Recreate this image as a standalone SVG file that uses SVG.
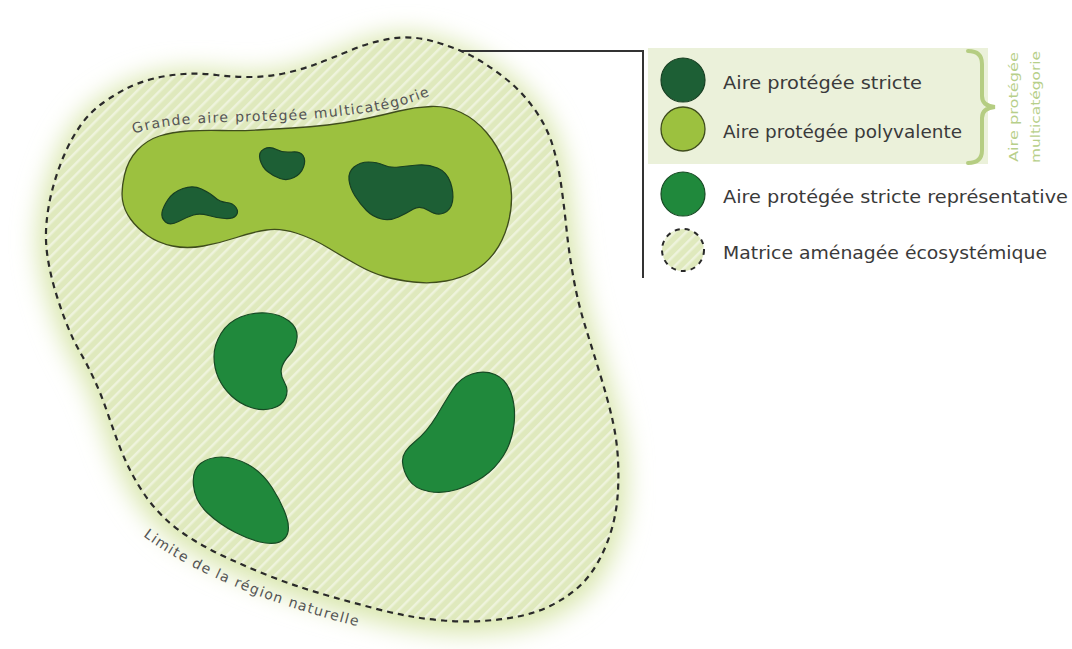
<svg xmlns="http://www.w3.org/2000/svg" width="1072" height="649" viewBox="0 0 1072 649">
<defs>
<style>
.lbl{font-family:"DejaVu Sans","Liberation Sans",sans-serif;fill:#3a3a3a;}
.leg{font-size:17px;}
.curv{font-size:14px;fill:#555;}
.dark{fill:#1d5f35;stroke:#173f22;stroke-width:1.2;}
.rep{fill:#20893c;stroke:#174a24;stroke-width:1.2;}
.poly{fill:#9cc13f;stroke:#3f4d1c;stroke-width:1.3;}
.side{font-family:"DejaVu Sans","Liberation Sans",sans-serif;font-size:13px;fill:#b7cf8a;}
</style>
<pattern id="stripes" patternUnits="userSpaceOnUse" width="8" height="8" patternTransform="rotate(45)">
<rect width="8" height="8" fill="#dfe9bd"/>
<rect x="0" y="0" width="2.5" height="8" fill="#eef3dc"/>
</pattern>
<filter id="glow" x="-20%" y="-20%" width="140%" height="140%">
<feGaussianBlur stdDeviation="12"/>
</filter>
<path id="regionShape" d="M437.5,42.5 Q462,50 478,59.5 Q494,69 508.5,81 Q523,93 535,110 Q547,127 552.5,145 Q558,163 561,184 Q564,205 566.5,229 Q569,253 573.5,278 Q578,303 585,325.5 Q592,348 600,374 Q608,400 612.5,420 Q617,440 618,460 Q619,480 617.5,497.5 Q616,515 611,531.5 Q606,548 597.5,563 Q589,578 577.5,588 Q566,598 551,605.5 Q536,613 518,616.5 Q500,620 481,621 Q462,622 443.5,620.5 Q425,619 408.5,616 Q392,613 375,608.5 Q358,604 341.5,599.5 Q325,595 306,589 Q287,583 267,575 Q247,567 228.5,558.5 Q210,550 193.5,540 Q177,530 165,518.5 Q153,507 144.5,494.5 Q136,482 129.5,469 Q123,456 117.5,441 Q112,426 106.5,410 Q101,394 94,379 Q87,364 80,352 Q73,340 66.5,323.5 Q60,307 55,290 Q50,273 47.5,256.5 Q45,240 46.5,223 Q48,206 52.5,189 Q57,172 64,155.5 Q71,139 80.5,125.5 Q90,112 103.5,102.5 Q117,93 128.5,87.5 Q140,82 154,78.5 Q168,75 184,74 Q200,73 216.5,75 Q233,77 250,77 Q267,77 283.5,73.5 Q300,70 315,64.5 Q330,59 350,50.5 Q370,42 391.5,38.5 Q413,35 437.5,42.5 Z"/>
<path id="topTextPath" d="M134,134 C175,118 260,124 320,118 S400,108 436,93"/>
<path id="bottomTextPath" d="M143,536 Q215,590 360,627"/>
</defs>

<rect width="1072" height="649" fill="#ffffff"/>

<g id="region">
<use href="#regionShape" fill="#d6e4a6" stroke="#dce8b4" stroke-width="18" filter="url(#glow)" transform="translate(0,4)"/>
<use href="#regionShape" fill="url(#stripes)"/>
<use href="#regionShape" fill="none" stroke="#2a2a2a" stroke-width="2.2" stroke-dasharray="6 5"/>
<text class="lbl curv"><textPath href="#bottomTextPath" textLength="234" lengthAdjust="spacing">Limite de la région naturelle</textPath></text>
</g>

<g id="multicategory-area">
<path class="poly" d="M124.5,175 Q128,160 137.5,150 Q147,140 159.5,136 Q172,132 188.5,131 Q205,130 222.5,130.5 Q240,131 257.5,130 Q275,129 292.5,128 Q310,127 327.5,125 Q345,123 364,119 Q383,115 399,111 Q415,107 431,106.5 Q447,106 461,112.5 Q475,119 486.5,132.5 Q498,146 504.5,163 Q511,180 511.5,195 Q512,210 507.5,225.5 Q503,241 494.5,252.5 Q486,264 474,271 Q462,278 446,281 Q430,284 413.5,282 Q397,280 384.5,276.5 Q372,273 358.5,265.5 Q345,258 328.5,248 Q312,238 296,233 Q280,228 266.5,230 Q253,232 236.5,237.5 Q220,243 203.5,246 Q187,249 172.5,246 Q158,243 147.5,235.5 Q137,228 130.5,219 Q124,210 122.5,200 Q121,190 124.5,175 Z"/>
<text class="lbl curv"><textPath href="#topTextPath" textLength="300" lengthAdjust="spacing">Grande aire protégée multicatégorie</textPath></text>
</g>

<g id="strict-1"><path class="dark" d="M168,199.5 Q173,192 183,188.5 Q193,185 201.5,189 Q210,193 215,197.5 Q220,202 226.5,202.5 Q233,203 236,207.5 Q239,212 236,215.5 Q233,219 225,218.5 Q217,218 208.5,215.5 Q200,213 193.5,215 Q187,217 178.5,221.5 Q170,226 165.5,222 Q161,218 162,212.5 Q163,207 168,199.5 Z"/></g>
<g id="strict-2"><path class="dark" d="M264,149 Q270,146 276.5,149.5 Q283,153 291.5,152 Q300,151 303,155.5 Q306,160 303.5,167 Q301,174 294,177.5 Q287,181 280,178.5 Q273,176 267.5,171.5 Q262,167 260,159.5 Q258,152 264,149 Z"/></g>
<g id="strict-3"><path class="dark" d="M354,167 Q360,162 368.5,162 Q377,162 383.5,165 Q390,168 398.5,167 Q407,166 417.5,165 Q428,164 437.5,168 Q447,172 450.5,182.5 Q454,193 452.5,201.5 Q451,210 444,213 Q437,216 428.5,210.5 Q420,205 413.5,209 Q407,213 398.5,217 Q390,221 381.5,219 Q373,217 366.5,210.5 Q360,204 355,196 Q350,188 349,180 Q348,172 354,167 Z"/></g>

<g id="representative-1"><path class="rep" d="M221,333.5 Q228,322 240.5,317 Q253,312 266.5,313 Q280,314 289,321 Q298,328 297,338 Q296,348 289.5,355 Q283,362 281.5,368.5 Q280,375 284.5,382.5 Q289,390 285.5,398 Q282,406 272,408.5 Q262,411 251,407.5 Q240,404 231.5,396 Q223,388 218.5,378 Q214,368 214,356.5 Q214,345 221,333.5 Z"/></g>
<g id="representative-2"><path class="rep" d="M200.5,463.5 Q209,457 221.5,457 Q234,457 248,464.5 Q262,472 272,487.5 Q282,503 286.5,517 Q291,531 285,538 Q279,545 265.5,543 Q252,541 235.5,532.5 Q219,524 207,512.5 Q195,501 193.5,485.5 Q192,470 200.5,463.5 Z"/></g>
<g id="representative-3"><path class="rep" d="M414.5,442 Q427,432 436.5,416 Q446,400 453,389 Q460,378 472,374 Q484,370 495,374.5 Q506,379 511,393 Q516,407 514,424.5 Q512,442 503.5,455.5 Q495,469 483,477 Q471,485 457,489.5 Q443,494 429,491.5 Q415,489 409,480 Q403,471 402.5,461.5 Q402,452 414.5,442 Z"/></g>

<g id="connectors">
<path d="M462,51 H643 V278" fill="none" stroke="#333" stroke-width="2"/>
</g>

<g id="legend">
<rect x="648" y="48" width="340" height="116" fill="#ebf1da"/>
<g id="legend-strict">
<circle cx="683" cy="80" r="22" class="dark"/>
<text class="lbl leg" x="723" y="89" textLength="199" lengthAdjust="spacingAndGlyphs">Aire protégée stricte</text>
</g>
<g id="legend-polyvalente">
<circle cx="683" cy="129" r="22" class="poly"/>
<text class="lbl leg" x="723" y="138" textLength="239" lengthAdjust="spacingAndGlyphs">Aire protégée polyvalente</text>
</g>
<g id="legend-representative">
<circle cx="683" cy="194" r="22" class="rep"/>
<text class="lbl leg" x="723" y="203" textLength="345" lengthAdjust="spacingAndGlyphs">Aire protégée stricte représentative</text>
</g>
<g id="legend-matrix">
<circle cx="683" cy="250" r="21" fill="url(#stripes)" stroke="#2a2a2a" stroke-width="2" stroke-dasharray="5 5"/>
<text class="lbl leg" x="723" y="259" textLength="324" lengthAdjust="spacingAndGlyphs">Matrice aménagée écosystémique</text>
</g>
<g id="legend-brace">
<path d="M968,51 Q982,51 982,64 V96 Q982,106 995,107 Q982,108 982,118 V150 Q982,163 968,163" fill="none" stroke="#b5cd82" stroke-width="4" stroke-linecap="round"/>
<text class="side" transform="translate(1018,107) rotate(-90)" text-anchor="middle" textLength="110" lengthAdjust="spacingAndGlyphs">Aire protégée</text>
<text class="side" transform="translate(1040,107) rotate(-90)" text-anchor="middle" textLength="112" lengthAdjust="spacingAndGlyphs">multicatégorie</text>
</g>
</g>
</svg>
